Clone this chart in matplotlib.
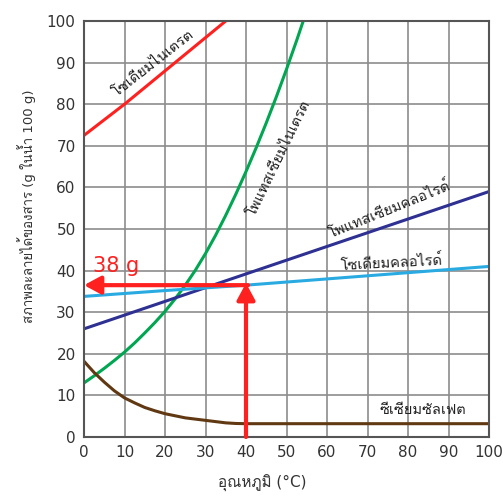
import matplotlib
matplotlib.use("Agg")
import matplotlib.pyplot as plt
from matplotlib import font_manager
from matplotlib.ft2font import FT2Font

# ---- data ----
temps_nano3 = [0, 10, 20, 30, 40]
sol_nano3 = [72.5, 80, 88, 96, 104]

temps_kno3 = [0, 2.5, 5, 7.5, 10, 12.5, 15, 17.5, 20, 22.5, 25, 27.5, 30,
              32.5, 35, 37.5, 40, 42.5, 45, 47.5, 50, 52.5, 55, 57.5]
sol_kno3 = [13, 14.7, 16.5, 18.4, 20.4, 22.6, 25.0, 27.5, 30.2, 33.2, 36.5, 40.1, 44.1,
            48.5, 53.3, 58.4, 63.8, 69.5, 75.5, 81.8, 88.4, 95.3, 102.5, 109.9]

temps_kcl = [0, 50, 100]
sol_kcl = [26, 42.5, 59]

temps_nacl = [0, 20, 40, 60, 80, 100]
sol_nacl = [33.8, 35.2, 36.5, 38, 39.5, 41]

temps_ce = [0, 2.5, 5, 7.5, 10, 12.5, 15, 17.5, 20, 22.5, 25, 27.5, 30,
            32.5, 35, 37.5, 40, 100]
sol_ce = [18.2, 15.5, 13.2, 11.1, 9.4, 8.2, 7.1, 6.3, 5.6, 5.1, 4.6, 4.3, 4.0,
          3.7, 3.4, 3.25, 3.2, 3.2]

xticks = list(range(0, 101, 10))
yticks = list(range(0, 101, 10))

read_temp = 40
read_sol = 36.5
read_label = "38 g"

labels = {
    "nano3": "โซเดียมไนเตรต",
    "kno3": "โพแทสเซียมไนเตรต",
    "kcl": "โพแทสเซียมคลอไรด์",
    "nacl": "โซเดียมคลอไรด์",
    "ce": "ซีเซียมซัลเฟต",
}
xlabel = "อุณหภูมิ (°C)"
ylabel = "สภาพละลายได้ของสาร (g ในน้ำ 100 g)"

# ---- find a font with Thai glyphs ----
thai_family = None
for f in font_manager.fontManager.ttflist:
    try:
        ft = FT2Font(f.fname)
        if ft.get_char_index(ord("ก")) and ft.get_char_index(ord("1")):
            thai_family = f.name
            break
    except Exception:
        pass
fams = ["DejaVu Sans"]
if thai_family:
    fams = ["DejaVu Sans", thai_family]
plt.rcParams["font.family"] = fams

RED = "#ff2020"
GREEN = "#00a651"
DBLUE = "#2e3192"
LBLUE = "#29abe2"
BROWN = "#603913"

fig = plt.figure(figsize=(5.03, 5.01), dpi=100)
ax = fig.add_axes([84 / 503, 64 / 501, 405 / 503, 416 / 501])
ax.set_xlim(0, 100)
ax.set_ylim(0, 100)
ax.set_xticks(xticks)
ax.set_yticks(yticks)
ax.grid(True, color="#8c8c8c", lw=1.2)
ax.set_axisbelow(True)
for s in ax.spines.values():
    s.set_color("#555555")
    s.set_linewidth(1.5)
ax.tick_params(length=0, labelsize=11, colors="#333333", pad=6)

lw = 2.2
ax.plot(temps_nano3, sol_nano3, color=RED, lw=lw)
ax.plot(temps_kno3, sol_kno3, color=GREEN, lw=lw)
ax.plot(temps_kcl, sol_kcl, color=DBLUE, lw=lw)
ax.plot(temps_nacl, sol_nacl, color=LBLUE, lw=lw)
ax.plot(temps_ce, sol_ce, color=BROWN, lw=lw)

tfs = 10.5
ax.text(17, 90, labels["nano3"], rotation=38, ha="center", va="center", fontsize=tfs, color="#222222")
ax.text(48, 67, labels["kno3"], rotation=64, ha="center", va="center", fontsize=tfs, color="#222222")
ax.text(75.5, 54.6, labels["kcl"], rotation=22, ha="center", va="center", fontsize=tfs, color="#222222")
ax.text(76, 41.8, labels["nacl"], rotation=3, ha="center", va="center", fontsize=tfs, color="#222222")
ax.text(83.7, 6.5, labels["ce"], rotation=0, ha="center", va="center", fontsize=tfs, color="#222222")

ap = dict(arrowstyle="-|>,head_length=0.5,head_width=0.27", color=RED, lw=3,
          mutation_scale=20, shrinkA=0, shrinkB=0)
ax.annotate("", xy=(read_temp, read_sol + 0.5), xytext=(read_temp, 0), arrowprops=ap)
ax.annotate("", xy=(0, read_sol), xytext=(read_temp + 0.5, read_sol), arrowprops=ap)
ax.text(2.3, read_sol + 4.5, read_label, color=RED, fontsize=15, ha="left", va="center")

ax.set_xlabel(xlabel, fontsize=11, color="#333333")
ax.set_ylabel(ylabel, fontsize=9.5, color="#333333")
ax.xaxis.set_label_coords(0.44, -0.09)
ax.yaxis.set_label_coords(-0.118, 0.555)

fig.savefig("out.png", dpi=100)
